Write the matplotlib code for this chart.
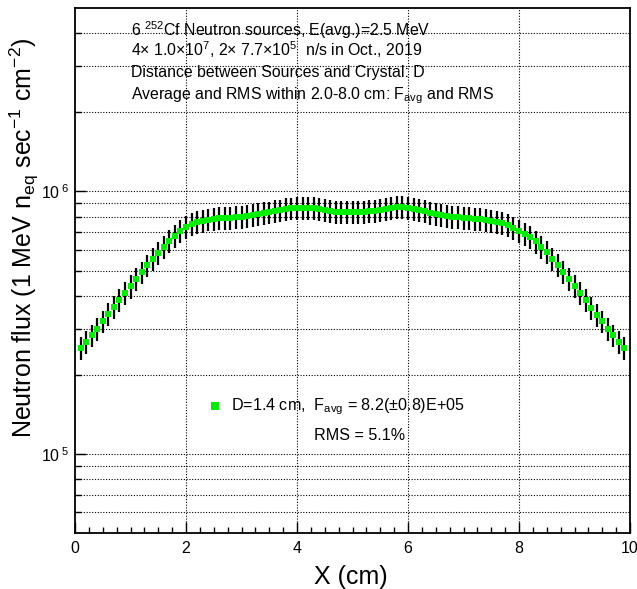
import numpy as np
import matplotlib
matplotlib.use("Agg")
import matplotlib.pyplot as plt
from matplotlib.ticker import FixedLocator, NullFormatter, MultipleLocator

plt.rcParams['font.family'] = ['Liberation Sans', 'DejaVu Sans']
plt.rcParams['mathtext.fontset'] = 'custom'
plt.rcParams['mathtext.rm'] = 'Liberation Sans'
plt.rcParams['mathtext.it'] = 'Liberation Sans'
plt.rcParams['mathtext.bf'] = 'Liberation Sans'

# ---- data ----
x_cm = [0.1, 0.2, 0.3, 0.4, 0.5, 0.6, 0.7, 0.8, 0.9, 1.0,
        1.1, 1.2, 1.3, 1.4, 1.5, 1.6, 1.7, 1.8, 1.9, 2.0,
        2.1, 2.2, 2.3, 2.4, 2.5, 2.6, 2.7, 2.8, 2.9, 3.0,
        3.1, 3.2, 3.3, 3.4, 3.5, 3.6, 3.7, 3.8, 3.9, 4.0,
        4.1, 4.2, 4.3, 4.4, 4.5, 4.6, 4.7, 4.8, 4.9, 5.0,
        5.1, 5.2, 5.3, 5.4, 5.5, 5.6, 5.7, 5.8, 5.9, 6.0,
        6.1, 6.2, 6.3, 6.4, 6.5, 6.6, 6.7, 6.8, 6.9, 7.0,
        7.1, 7.2, 7.3, 7.4, 7.5, 7.6, 7.7, 7.8, 7.9, 8.0,
        8.1, 8.2, 8.3, 8.4, 8.5, 8.6, 8.7, 8.8, 8.9, 9.0,
        9.1, 9.2, 9.3, 9.4, 9.5, 9.6, 9.7, 9.8, 9.9]

# flux in units of 1e5
flux_e5 = [2.54, 2.67, 2.83, 2.99, 3.20, 3.41, 3.63, 3.85, 4.11, 4.35,
           4.64, 4.92, 5.23, 5.53, 5.85, 6.14, 6.46, 6.75, 7.06, 7.31,
           7.54, 7.65, 7.75, 7.82, 7.86, 7.90, 7.92, 7.94, 7.97, 8.00,
           8.05, 8.12, 8.18, 8.25, 8.32, 8.40, 8.47, 8.55, 8.62, 8.66,
           8.68, 8.67, 8.64, 8.58, 8.50, 8.43, 8.37, 8.34, 8.33, 8.33,
           8.34, 8.36, 8.40, 8.46, 8.52, 8.60, 8.66, 8.70, 8.72, 8.68,
           8.60, 8.50, 8.40, 8.30, 8.20, 8.12, 8.06, 8.02, 7.97, 7.94,
           7.90, 7.88, 7.85, 7.80, 7.74, 7.68, 7.60, 7.45, 7.28, 7.10,
           6.90, 6.70, 6.45, 6.15, 5.87, 5.55, 5.24, 4.93, 4.64, 4.37,
           4.12, 3.85, 3.60, 3.39, 3.20, 3.00, 2.83, 2.67, 2.54]

# uncertainty in units of 1e5 (about 10 %)
err_e5 = [0.25, 0.27, 0.28, 0.30, 0.32, 0.34, 0.36, 0.39, 0.41, 0.44,
          0.46, 0.49, 0.52, 0.55, 0.59, 0.61, 0.65, 0.68, 0.71, 0.73,
          0.75, 0.77, 0.78, 0.78, 0.79, 0.79, 0.79, 0.79, 0.80, 0.80,
          0.81, 0.81, 0.82, 0.83, 0.83, 0.84, 0.85, 0.86, 0.86, 0.87,
          0.87, 0.87, 0.86, 0.86, 0.85, 0.84, 0.84, 0.83, 0.83, 0.83,
          0.83, 0.84, 0.84, 0.85, 0.85, 0.86, 0.87, 0.87, 0.87, 0.87,
          0.86, 0.85, 0.84, 0.83, 0.82, 0.81, 0.81, 0.80, 0.80, 0.79,
          0.79, 0.79, 0.79, 0.78, 0.77, 0.77, 0.76, 0.75, 0.73, 0.71,
          0.69, 0.67, 0.65, 0.62, 0.59, 0.56, 0.52, 0.49, 0.46, 0.44,
          0.41, 0.39, 0.36, 0.34, 0.32, 0.30, 0.28, 0.27, 0.25]

x_ticks = [0, 2, 4, 6, 8, 10]
x_tick_labels = ['0', '2', '4', '6', '8', '10']
y_major = [1e5, 1e6]
y_major_labels = [r'$\mathregular{10^{\;5}}$', r'$\mathregular{10^{\;6}}$']

info_lines = [
    r'6 $\mathregular{^{252}}$Cf Neutron sources, E(avg.)=2.5 MeV',
    r'4$\times$ 1.0$\times$10$\mathregular{^{7}}$, 2$\times$ 7.7$\times$10$\mathregular{^{5}}$  n/s in Oct., 2019',
    'Distance between Sources and Crystal: D',
    r'Average and RMS within 2.0-8.0 cm: F$\mathregular{_{avg}}$ and RMS',
]
legend_line1 = r'D=1.4 cm,  F$\mathregular{_{avg}}$ = 8.2($\pm$0.8)E+05'
legend_line2 = 'RMS = 5.1%'

# ---- figure ----
W, H = 637, 589
fig = plt.figure(figsize=(W / 100, H / 100), dpi=100)
L, R, T, B = 75, 630, 8, 533
ax = fig.add_axes([L / W, 1 - B / H, (R - L) / W, (B - T) / H])

x = np.array(x_cm)
y = np.array(flux_e5) * 1e5
e = np.array(err_e5) * 1e5

ax.set_yscale('log')
ax.set_xlim(0, 10)
ax.set_ylim(5e4, 5e6)

# grid
ygrid = [6e4, 7e4, 8e4, 9e4, 1e5, 2e5, 3e5, 4e5, 5e5, 6e5, 7e5, 8e5, 9e5,
         1e6, 2e6, 3e6, 4e6]
for yy in ygrid:
    ax.axhline(yy, color='black', lw=0.8, ls=(0, (1, 1.5)), zorder=1)
for xx in x_ticks[1:-1]:
    ax.axvline(xx, color='black', lw=0.8, ls=(0, (1, 1.5)), zorder=1)

ax.errorbar(x, y, yerr=e, fmt='none', ecolor='black', elinewidth=1.6,
            capsize=0, zorder=3)
ax.plot(x, y, 's', color='#00ee00', markersize=4.6, markeredgewidth=0,
        zorder=4)

# ticks
ax.xaxis.set_major_locator(FixedLocator(x_ticks))
ax.set_xticklabels(x_tick_labels)
ax.xaxis.set_minor_locator(MultipleLocator(0.25))
ax.yaxis.set_major_locator(FixedLocator(y_major))
ax.set_yticklabels(y_major_labels)
ax.yaxis.set_minor_locator(FixedLocator([v for v in ygrid if v not in y_major]))
ax.yaxis.set_minor_formatter(NullFormatter())
ax.tick_params(axis='x', which='major', direction='in', length=8, width=1,
               labelsize=11.5, pad=6, top=False)
ax.tick_params(axis='x', which='minor', direction='in', length=4.5, width=1,
               top=False)
ax.tick_params(axis='y', which='major', direction='in', length=8, width=1,
               labelsize=11.5, pad=4, right=False)
ax.tick_params(axis='y', which='minor', direction='in', length=4.5, width=1,
               right=False)
for sp in ax.spines.values():
    sp.set_linewidth(1.3)
    sp.set_zorder(5)

# info text
ys_px = [30, 50, 73, 96]
for line, ypx in zip(info_lines, ys_px):
    ax.text(131 / W, 1 - ypx / H, line, transform=fig.transFigure,
            fontsize=11.4, ha='left', va='center', zorder=6)

# legend-like annotation
lx = (215 - L) / (R - L) * 10
ax.plot([lx], [10 ** (6 - (406 - 191) / 263)], 's', color='#00ee00',
        markersize=5.5, markeredgewidth=0, zorder=6)
fig.text(231 / W, 1 - 407 / H, legend_line1, fontsize=11.6, ha='left',
         va='center')
fig.text(314 / W, 1 - 436 / H, legend_line2, fontsize=11.6, ha='left',
         va='center')

# axis titles
fig.text(351 / W, 1 - 577 / H, 'X (cm)', fontsize=18, ha='center',
         va='center')
fig.text(24 / W, 1 - 238 / H,
         r'Neutron flux (1 MeV n$\mathregular{_{eq}}$ sec$\mathregular{^{-1}}$ cm$\mathregular{^{-2}}$)',
         fontsize=18, ha='center', va='center', rotation=90)

fig.savefig('out.png', dpi=100)
